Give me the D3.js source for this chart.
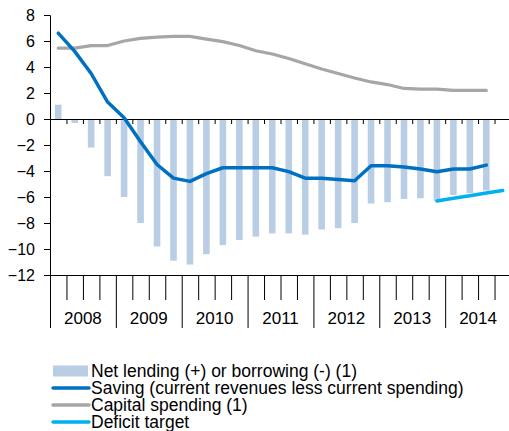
<!DOCTYPE html>
<html>
<head>
<meta charset="utf-8">
<script src="https://cdn.jsdelivr.net/npm/d3@7"></script>
<style>
  body { margin: 0; background: #fff; }
  svg { display: block; font-family: "Liberation Sans", Arial, sans-serif; }
</style>
</head>
<body>
<div id="chart"></div>
<script>
const width = 509;
const height = 431;

// quarterly data, 2008Q1 .. 2014Q4
const years = ["2008", "2009", "2010", "2011", "2012", "2013", "2014"];
const quarters = [
  "2008Q1", "2008Q2", "2008Q3", "2008Q4",
  "2009Q1", "2009Q2", "2009Q3", "2009Q4",
  "2010Q1", "2010Q2", "2010Q3", "2010Q4",
  "2011Q1", "2011Q2", "2011Q3", "2011Q4",
  "2012Q1", "2012Q2", "2012Q3", "2012Q4",
  "2013Q1", "2013Q2", "2013Q3", "2013Q4",
  "2014Q1", "2014Q2", "2014Q3", "2014Q4",
];
// net lending (+) or borrowing (-), last quarter has no data
const netLending = [
  1.1, -0.3, -2.2, -4.4,
  -6.0, -8.0, -9.8, -10.9,
  -11.2, -10.4, -9.7, -9.3,
  -9.05, -8.8, -8.8, -8.9,
  -8.5, -8.4, -8.0, -6.5,
  -6.4, -6.15, -6.1, -6.3,
  -5.85, -5.7, -5.5,
];
// saving (current revenues less current spending)
const saving = [
  6.6, 5.2, 3.5, 1.3,
  0.1, -1.75, -3.5, -4.55,
  -4.8, -4.2, -3.75, -3.75,
  -3.75, -3.75, -4.05, -4.55,
  -4.55, -4.65, -4.75, -3.6,
  -3.6, -3.7, -3.85, -4.05,
  -3.85, -3.85, -3.55,
];
// capital spending
const capital = [
  5.45, 5.45, 5.65, 5.65,
  6.0, 6.2, 6.3, 6.35,
  6.35, 6.15, 5.95, 5.65,
  5.25, 5.0, 4.65, 4.25,
  3.85, 3.5, 3.15, 2.85,
  2.65, 2.35, 2.3, 2.3,
  2.2, 2.2, 2.2,
];
// deficit target
const targetQuarters = ["2013Q4", "2014Q1", "2014Q2", "2014Q3", "2014Q4"];
const targetValues = [-6.3, -6.1, -5.9, -5.7, -5.5];

const yTicks = [-12, -10, -8, -6, -4, -2, 0, 2, 4, 6, 8];

const legendItems = [
  { label: "Net lending (+) or borrowing (-) (1)", type: "bar", color: "#b9cde5" },
  { label: "Saving (current revenues less current spending)", type: "line", color: "#0070c0" },
  { label: "Capital spending (1)", type: "line", color: "#a6a6a6" },
  { label: "Deficit target", type: "line", color: "#00b0f0" },
];

const plotLeft = 50, plotRight = 511, plotTop = 15, plotBottom = 275;

const svg = d3
  .select("#chart")
  .append("svg")
  .attr("width", width)
  .attr("height", height);

// scales
const x = d3.scaleBand().domain(quarters).range([plotLeft, plotRight]).paddingInner(0.6).paddingOuter(0.3);
const xMid = (q) => x(q) + x.bandwidth() / 2;
const xIdx = d3.scaleLinear().domain([0, quarters.length]).range([plotLeft, plotRight]);
const y = d3.scaleLinear().domain([-12, 8]).range([plotBottom, plotTop]);

// bars
svg
  .append("g")
  .selectAll("rect")
  .data(netLending)
  .enter()
  .append("rect")
  .attr("x", (d, i) => x(quarters[i]))
  .attr("width", x.bandwidth())
  .attr("y", (d) => y(Math.max(0, d)))
  .attr("height", (d) => Math.abs(y(d) - y(0)))
  .attr("fill", "#b9cde5");

// y axis
const yAxis = svg
  .append("g")
  .attr("transform", `translate(${plotLeft},0)`)
  .call(d3.axisLeft(y).tickValues(yTicks).tickSize(6).tickPadding(9));
yAxis.select(".domain").attr("stroke", "#000");
yAxis.selectAll(".tick line").attr("stroke", "#000");
yAxis
  .selectAll("text")
  .attr("font-size", 16)
  .attr("fill", "#000")
  .attr("font-family", "Liberation Sans, Arial, sans-serif");

// zero line with small quarter ticks
const zeroAxis = svg
  .append("g")
  .attr("transform", `translate(0,${y(0)})`)
  .call(
    d3.axisBottom(xIdx)
      .tickValues(d3.range(1, quarters.length + 1))
      .tickSize(5)
      .tickSizeOuter(0)
      .tickFormat("")
  );
zeroAxis.selectAll("line, path").attr("stroke", "#000");

// category axis at the bottom: quarter lines and year dividers
const catAxis = svg
  .append("g")
  .attr("transform", `translate(0,${plotBottom})`)
  .call(
    d3.axisBottom(xIdx)
      .tickValues(d3.range(1, quarters.length + 1).filter((i) => i % 4 !== 0))
      .tickSize(25)
      .tickSizeOuter(0)
      .tickFormat("")
  );
catAxis.selectAll("line, path").attr("stroke", "#000");

svg
  .append("g")
  .attr("transform", `translate(0,${plotBottom})`)
  .call(
    d3.axisBottom(xIdx)
      .tickValues(d3.range(0, quarters.length + 1, 4))
      .tickSize(53)
      .tickFormat("")
  )
  .call((g) => g.select(".domain").remove())
  .selectAll("line")
  .attr("stroke", "#000");

svg
  .append("g")
  .selectAll("text")
  .data(years)
  .enter()
  .append("text")
  .attr("x", (d, i) => xIdx(i * 4 + 2))
  .attr("y", 323.5)
  .attr("text-anchor", "middle")
  .attr("font-size", 17)
  .attr("fill", "#000")
  .text((d) => d);

// lines
const line = d3
  .line()
  .x((d) => xMid(d.q))
  .y((d) => y(d.v));

function drawLine(qs, vals, color, w) {
  svg
    .append("path")
    .datum(vals.map((v, i) => ({ q: qs[i], v: v })))
    .attr("d", line)
    .attr("fill", "none")
    .attr("stroke", color)
    .attr("stroke-width", w)
    .attr("stroke-linejoin", "round")
    .attr("stroke-linecap", "round");
}

drawLine(quarters, capital, "#a6a6a6", 3.2);
drawLine(quarters, saving, "#0070c0", 3.5);
drawLine(targetQuarters, targetValues, "#00b0f0", 3.5);

// legend
const legend = svg
  .append("g")
  .attr("transform", "translate(53,371)");

const rows = legend
  .selectAll("g")
  .data(legendItems)
  .enter()
  .append("g")
  .attr("transform", (d, i) => `translate(0,${i * 17})`);

rows
  .filter((d) => d.type === "bar")
  .append("rect")
  .attr("x", 0)
  .attr("y", -5.5)
  .attr("width", 35)
  .attr("height", 11)
  .attr("fill", (d) => d.color);

rows
  .filter((d) => d.type === "line")
  .append("line")
  .attr("x1", 0)
  .attr("x2", 36)
  .attr("y1", 0)
  .attr("y2", 0)
  .attr("stroke", (d) => d.color)
  .attr("stroke-width", 3.5)
  .attr("stroke-linecap", "round");

rows
  .append("text")
  .attr("x", 38)
  .attr("y", 6)
  .attr("font-size", 17.5)
  .attr("fill", "#000")
  .text((d) => d.label);
</script>
</body>
</html>
